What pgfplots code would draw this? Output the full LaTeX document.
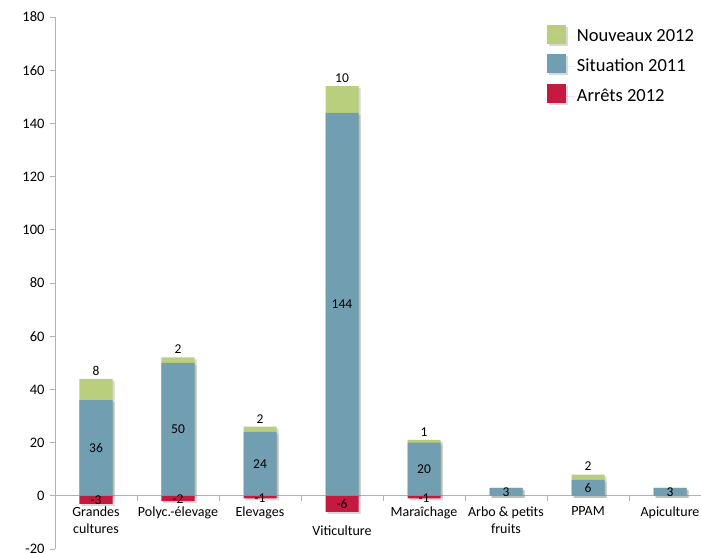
\documentclass[border=0pt]{standalone}
\usepackage{fontspec}
\setmainfont{Carlito}
\usepackage{pgfplots}
\pgfplotsset{compat=1.18}
\usetikzlibrary{shadows}
\definecolor{cgreen}{HTML}{B9CF7E}
\definecolor{cblue}{HTML}{729EB1}
\definecolor{cred}{HTML}{C6193F}
\pgfplotsset{
  mybar/.style={ybar, bar width=33pt, bar shift=0pt, draw=none,
    drop shadow={shadow xshift=2pt, shadow yshift=-2pt, opacity=0.3},
    legend image code/.code={\fill[##1] (0pt,-7pt) rectangle (19pt,12pt); \path (0pt,0pt) -- (28pt,0pt);}},
  lab/.style={draw=none, forget plot, nodes near coords, point meta=explicit symbolic,
    nodes near coords style={font=\fontsize{13.5}{15}\selectfont, text=black}},
}
\begin{document}
\begin{tikzpicture}
\begin{axis}[name=ax, scale only axis, width=656pt, height=532pt,
  xmin=-0.5, xmax=7.5, ymin=-20, ymax=180,
  axis x line=middle, axis y line=left,
  axis line style={-, draw=black!30, line width=0.8pt},
  tick align=outside, major tick length=5pt,
  ytick={-20,0,...,180},
  ytick style={draw=black!30, line width=0.8pt},
  xtick={0,...,7},
  xtick style={draw=none},
  xticklabels={Grandes\\cultures, Polyc.-élevage, Elevages, \strut\\Viticulture, Maraîchage, Arbo \& petits\\fruits, PPAM, Apiculture},
  extra x ticks={0.5,1.5,...,6.5},
  extra x tick labels={},
  extra x tick style={xtick style={draw=black!30, line width=0.8pt}},
  tick label style={font=\fontsize{14}{17}\selectfont},
  yticklabel style={font=\fontsize{14.5}{17}\selectfont, xshift=-2pt},
  xticklabel style={align=center, anchor=north, yshift=-2pt},
  /pgf/number format/assume math mode=true,
  legend style={at={(axis description cs:0.745,0.99)}, anchor=north west, draw=none, fill=none,
    font=\fontsize{18.5}{21}\selectfont, row sep=9pt, legend cell align=left},
]
\addplot[mybar, fill=cgreen] coordinates {(0,44) (1,52) (2,26) (3,154) (4,21) (5,3) (6,8) (7,3)};
\addlegendentry{Nouveaux 2012}
\addplot[mybar, fill=cblue] coordinates {(0,36) (1,50) (2,24) (3,144) (4,20) (5,3) (6,6) (7,3)};
\addlegendentry{Situation 2011}
\addplot[mybar, fill=cred] coordinates {(0,-3) (1,-2) (2,-1) (3,-6) (4,-1)};
\addlegendentry{Arrêts 2012}
\addplot[lab, nodes near coords style={anchor=south}] coordinates {(0,44)[8] (1,52)[2] (2,26)[2] (3,154)[10] (4,21)[1] (6,8)[2]};
\addplot[lab, nodes near coords style={anchor=center}] coordinates {(0,18)[36] (1,25)[50] (2,12)[24] (3,72)[144] (4,10)[20] (5,1.5)[3] (6,3)[6] (7,1.5)[3]};
\addplot[lab, nodes near coords style={anchor=center}] coordinates {(0,-1.8)[-3] (1,-1.2)[-2] (2,-0.8)[-1] (3,-3)[-6] (4,-0.8)[-1]};
\end{axis}
\pgfresetboundingbox
\path[use as bounding box] ([shift={(-55pt,-3pt)}]ax.south west) rectangle ([shift={(646pt,17pt)}]ax.north west);
\end{tikzpicture}
\end{document}
